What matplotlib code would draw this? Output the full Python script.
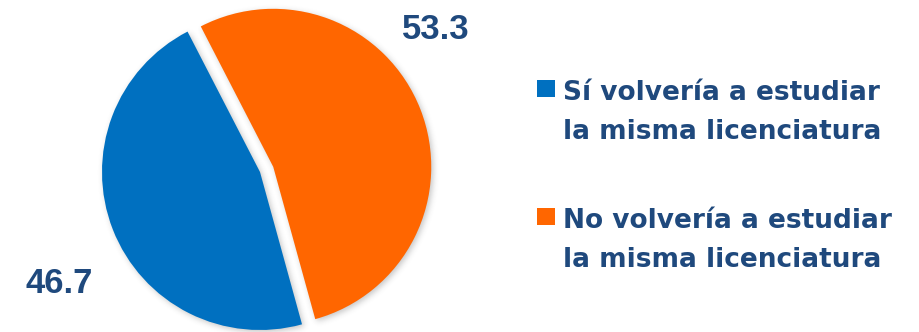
import numpy as np
import matplotlib
matplotlib.use("Agg")
import matplotlib.pyplot as plt
from matplotlib.patches import Rectangle, Wedge

categories = ["Sí volvería a estudiar\nla misma licenciatura",
              "No volvería a estudiar\nla misma licenciatura"]
values = [46.7, 53.3]
colors = ["#0070C0", "#FF6600"]
explode = [0, 0.09]

TEXT = "#1F497D"
W, H = 919, 332


def soft_shadow(im, dpi, pad=12, sigma=3.0, strength=0.3, dx=2, dy=-2):
    """Blur the alpha channel of a rendered patch into a soft grey shadow."""
    a = np.pad(im[..., 3], pad, mode="constant")
    x = np.arange(-3 * sigma, 3 * sigma + 1)
    k = np.exp(-0.5 * (x / sigma) ** 2)
    k /= k.sum()
    a = np.apply_along_axis(lambda v: np.convolve(v, k, mode="same"), 0, a)
    a = np.apply_along_axis(lambda v: np.convolve(v, k, mode="same"), 1, a)
    out = np.zeros(a.shape + (4,), dtype=float)
    out[..., :3] = 0.25
    out[..., 3] = np.clip(a * strength, 0, 1)
    return out, -pad + dx, -pad + dy


fig = plt.figure(figsize=(W / 100, H / 100), dpi=100)

# pie axes placed so one data unit equals the pie radius in pixels
cx, cy, r, lim = 260, 160, 158, 1.25
ax = fig.add_axes([(cx - lim * r) / W, (cy - lim * r) / H,
                   2 * lim * r / W, 2 * lim * r / H])
wedges, _ = ax.pie(values, colors=colors, explode=explode,
                   startangle=117.3, counterclock=True, radius=1,
                   wedgeprops=dict(linewidth=0, zorder=2))
for w in wedges:
    sh = Wedge(w.center, w.r, w.theta1, w.theta2, color="black",
               lw=0, zorder=1)
    sh.set_agg_filter(soft_shadow)
    ax.add_patch(sh)
ax.set_xlim(-lim, lim)
ax.set_ylim(-lim, lim)
ax.set_aspect("equal")
ax.axis("off")

# value labels
label_pos = [(-1.269, -0.766), (1.114, 0.842)]
for v, (x, y) in zip(values, label_pos):
    ax.text(x, y, f"{v:.1f}", ha="center", va="baseline",
            fontsize=25, fontweight="bold", family="Liberation Sans",
            color=TEXT, clip_on=False)

# legend: colour square plus two-line label
leg_top = [232, 104]      # baseline of first line (pixels from bottom)
line_gap = 39
for cat, col, base in zip(categories, colors, leg_top):
    fig.add_artist(Rectangle((537 / W, (base + 3) / H), 18 / W, 17 / H,
                             transform=fig.transFigure, color=col, lw=0))
    for i, line in enumerate(cat.split("\n")):
        fig.text(563 / W, (base - i * line_gap) / H, line,
                 ha="left", va="baseline", fontsize=19,
                 fontweight="bold", family="DejaVu Sans", color=TEXT)

fig.savefig("out.png", dpi=100)
